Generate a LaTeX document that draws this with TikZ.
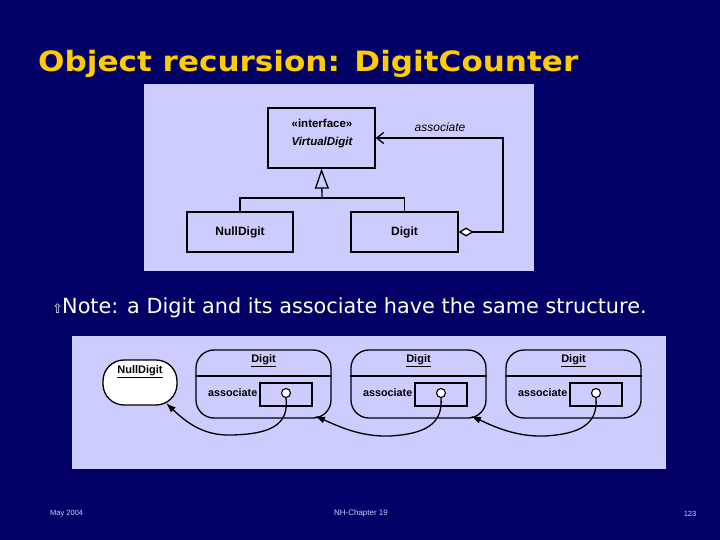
\documentclass[tikz,border=0pt]{standalone}
\usepackage{fontspec}
\setmainfont{Liberation Sans}
\newfontfamily\titlefont{DejaVu Sans}
\newfontfamily\notefont{DejaVu Sans}
\usetikzlibrary{arrows.meta,calc}
\definecolor{slidebg}{HTML}{000066}
\definecolor{titleyellow}{HTML}{FFCC00}
\definecolor{panel}{HTML}{CCCCFF}
\definecolor{footc}{HTML}{CCCCFF}
\tikzset{
  classbox/.style={draw=black, line width=1.3pt, fill=panel, inner sep=0pt},
  objbox/.style={draw=black, line width=1.3pt, rounded corners=18pt, inner sep=0pt, minimum width=135pt, minimum height=68pt},
  nullbox/.style={draw=black, line width=1.3pt, fill=white, rounded corners=21pt, inner sep=0pt, minimum width=74pt, minimum height=45pt},
  slotbox/.style={draw=black, line width=1.3pt, inner sep=0pt, minimum width=52pt, minimum height=23pt},
  handle/.style={draw=black, line width=1.1pt, fill=white, circle, inner sep=0pt, minimum size=9pt},
  uml/.style={font=\bfseries\fontsize{12}{14}\selectfont},
  link/.style={line width=1.3pt},
  reflink/.style={line width=1.3pt, -{Latex[length=10pt,width=7pt]}},
}
\begin{document}
\begin{tikzpicture}[x=1pt,y=-1pt]
\useasboundingbox (0,0) rectangle (720,540);
\fill[slidebg] (0,0) rectangle (720,540);
% title
\node[anchor=base west, text=titleyellow, font=\titlefont\bfseries\fontsize{28}{30}\selectfont, inner sep=0pt] (title) at (38,72) {\scalebox{1.11}[1]{Object recursion: DigitCounter}};
% top panel
\fill[panel] (144,84) rectangle (534,271);
\node[classbox, minimum width=107pt, minimum height=60pt] (vd) at (321.5,138) {};
\node[font=\bfseries\fontsize{11.5}{13}\selectfont] (stereo) at (322,123) {«interface»};
\node[font=\bfseries\itshape\fontsize{11.5}{13}\selectfont] (vdname) at (322,143) {VirtualDigit};
\node[classbox, uml, minimum width=106pt, minimum height=40pt] (nd) at (240,232) {NullDigit};
\node[classbox, uml, minimum width=107pt, minimum height=40pt] (dg) at (404.5,232) {Digit};
\coordinate (j) at (322,198);
\draw[link] (nd.north) |- (j) -| (dg.north);
\draw[link, -{Triangle[open,length=20pt,width=14pt,fill=panel]}] (j) -- (vd.south);
\coordinate (bend) at (503,232);
\draw[link, {Diamond[open,length=15pt,width=9pt,fill=white]}-{Straight Barb[length=7pt,width=11pt]}] (dg.east) -- (bend) |- (vd.east);
\node[font=\itshape\fontsize{12}{14}\selectfont] (assoc) at (440,127) {associate};
% note
\node[anchor=base west, text=white, font=\notefont\fontsize{13}{14}\selectfont, inner sep=0pt] (bullet) at (52,313) {⇧};
\node[anchor=base west, text=white, font=\notefont\fontsize{20.8}{22}\selectfont, inner sep=0pt] (note) at (62,313) {Note: a Digit and its associate have the same structure.};
% bottom panel
\fill[panel] (72,336) rectangle (666,469);
\node[nullbox] (nullobj) at (140,382.5) {};
\node[font=\bfseries\fontsize{11}{13}\selectfont] (nulltxt) at (140,372) {\underline{NullDigit}};
\foreach \n/\cx in {1/263.5, 2/418.5, 3/573.5} {
  \node[objbox] (obj\n) at (\cx,384) {};
  \draw[line width=1.3pt] (obj\n.west |- 0,376) -- (obj\n.east |- 0,376);
  \node[font=\bfseries\fontsize{11}{13}\selectfont] (hd\n) at (\cx,361) {\underline{Digit}};
  \node[font=\bfseries\fontsize{10.8}{12}\selectfont, anchor=east, inner sep=0pt] (lab\n) at (\cx-6,393) {associate};
  \node[slotbox] (slot\n) at (\cx+22.5,394.5) {};
  \node[handle] (h\n) at (\cx+22.5,393) {};
}
\coordinate (t0) at (166,403);
\coordinate (t1) at (315,416);
\coordinate (t2) at (471,416);
\draw[reflink] (h1.south) .. controls (289,424) and (272,434) .. (232,435) .. controls (205,436) and (188,424) .. (t0);
\draw[reflink] (h2.south) .. controls (443,424) and (425,434) .. (390,436) .. controls (360,437) and (338,426) .. (t1);
\draw[reflink] (h3.south) .. controls (598,424) and (580,434) .. (545,436) .. controls (515,437) and (493,426) .. (t2);
% footer
\node[text=footc, font=\fontsize{7.5}{9}\selectfont, anchor=west, inner sep=0pt] (date) at (50,514) {May 2004};
\node[text=footc, font=\fontsize{8}{9}\selectfont, inner sep=0pt] (chap) at (361,513) {NH-Chapter 19};
\node[text=footc, font=\fontsize{7.5}{9}\selectfont, inner sep=0pt] (page) at (690,514) {123};
\end{tikzpicture}
\end{document}
